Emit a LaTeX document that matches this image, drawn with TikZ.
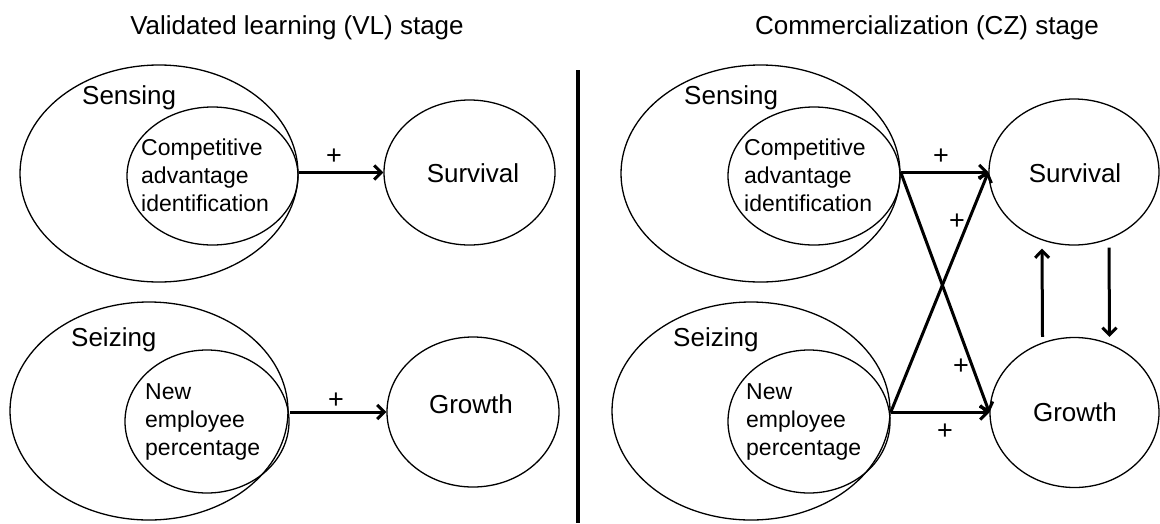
\documentclass[tikz,border=0pt]{standalone}
\usepackage{fontspec}
\setmainfont{Liberation Sans}
\usetikzlibrary{shapes.geometric,arrows.meta}
\tikzset{
  oval/.style={draw,ellipse,line width=1.3pt,inner sep=0pt},
  bigfont/.style={font=\fontsize{26}{31}\selectfont},
  smallfont/.style={font=\fontsize{23}{28}\selectfont},
  inner/.style={smallfont,align=left,anchor=west,inner sep=0pt},
  lbl/.style={bigfont,anchor=west,inner sep=0pt},
  arr/.style={line width=3pt,-{Straight Barb[length=7pt,width=14pt]}},
  plus/.style={font=\fontsize{27}{30}\selectfont,inner sep=0pt},
  divider/.style={line width=4pt}
}
\begin{document}
\begin{tikzpicture}[x=1pt,y=-1pt]
\useasboundingbox (0,0) rectangle (1160,523);
% titles
\node[bigfont] (t1) at (297,28) {Validated learning (VL) stage};
\node[bigfont] (t2) at (927,28) {Commercialization (CZ) stage};
% divider
\coordinate (dtop) at (578,70);
\coordinate (dbot) at (578,523);
\draw[divider] (dtop) -- (dbot);

% ---------- left panel ----------
\node[oval,minimum width=278pt,minimum height=217pt] (sensL) at (159,173.5) {};
\node[oval,minimum width=171pt,minimum height=138pt] (sensInL) at (212.5,176) {};
\node[lbl] (sensLt) at (82,98) {Sensing};
\node[inner] (caiL) at (141,175) {Competitive\\advantage\\identification};
\node[oval,minimum width=171pt,minimum height=145pt] (survL) at (469.5,172.5) {};
\node[bigfont] (survLt) at (473,173) {Survival};

\node[oval,minimum width=278pt,minimum height=218pt] (seizL) at (149,411) {};
\node[oval,minimum width=164pt,minimum height=143pt] (seizInL) at (207,421.5) {};
\node[lbl] (seizLt) at (71,340) {Seizing};
\node[inner] (nepL) at (145,422) {New\\employee\\percentage};
\node[oval,minimum width=172pt,minimum height=150pt] (growL) at (473,412) {};
\node[bigfont] (growLt) at (471,404) {Growth};

\draw[arr] (sensInL.east |- survL.west) -- (survL.west);
\draw[arr] (seizInL.east |- growL.west) -- (growL.west);
\node[plus] (p1) at (334,157) {+};
\node[plus] (p2) at (336,401) {+};

% ---------- right panel ----------
\node[oval,minimum width=279pt,minimum height=217pt] (sensR) at (760.5,173.5) {};
\node[oval,minimum width=172pt,minimum height=138pt] (sensInR) at (814,176) {};
\node[lbl] (sensRt) at (684,98) {Sensing};
\node[inner] (caiR) at (744,175) {Competitive\\advantage\\identification};
\node[oval,minimum width=170pt,minimum height=146pt] (survR) at (1074,172) {};
\node[bigfont] (survRt) at (1075,173) {Survival};

\node[oval,minimum width=278pt,minimum height=218pt] (seizR) at (751,411) {};
\node[oval,minimum width=162pt,minimum height=143pt] (seizInR) at (809,421.5) {};
\node[lbl] (seizRt) at (673,340) {Seizing};
\node[inner] (nepR) at (746,422) {New\\employee\\percentage};
\node[oval,minimum width=169pt,minimum height=150pt] (growR) at (1074.5,412.5) {};
\node[bigfont] (growRt) at (1075,412) {Growth};

\draw[arr] (sensInR.east |- survR.west) -- (survR.west);
\draw[arr] (seizInR.east |- growR.west) -- (growR.west);
\draw[arr] (sensInR.east |- survR.west) -- (growR.west);
\draw[arr] (seizInR.east |- growR.west) -- (survR.west);
\draw[arr,shorten >=3pt] ([xshift=-32pt]growR.north) -- ([xshift=-32pt]survR.south);
\draw[arr,shorten <=2pt] ([xshift=35pt]survR.south) -- ([xshift=35pt]growR.north);

\node[plus] (p3) at (941,157) {+};
\node[plus] (p4) at (957,222) {+};
\node[plus] (p5) at (961,367) {+};
\node[plus] (p6) at (945,432) {+};
\end{tikzpicture}
\end{document}
